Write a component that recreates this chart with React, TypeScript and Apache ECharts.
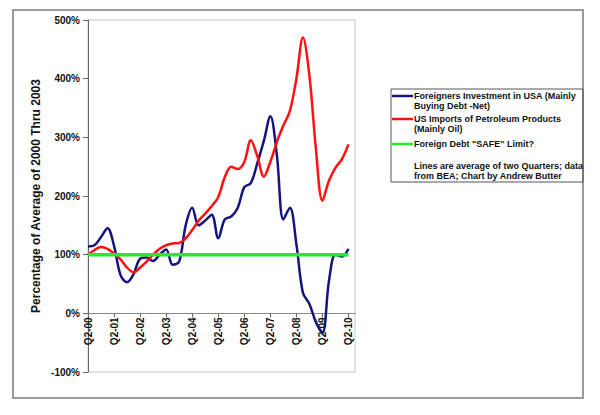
import { useEffect, useRef } from "react";
import * as echarts from "echarts";

const quarters = [
  "Q2-00", "Q3-00", "Q4-00", "Q1-01", "Q2-01", "Q3-01", "Q4-01", "Q1-02",
  "Q2-02", "Q3-02", "Q4-02", "Q1-03", "Q2-03", "Q3-03", "Q4-03", "Q1-04",
  "Q2-04", "Q3-04", "Q4-04", "Q1-05", "Q2-05", "Q3-05", "Q4-05", "Q1-06",
  "Q2-06", "Q3-06", "Q4-06", "Q1-07", "Q2-07", "Q3-07", "Q4-07", "Q1-08",
  "Q2-08", "Q3-08", "Q4-08", "Q1-09", "Q2-09", "Q3-09", "Q4-09", "Q1-10",
  "Q2-10", "Q3-10",
];

// Foreigners Investment in USA (Mainly Buying Debt - Net), % of 2000-2003 average
const foreignInvestment = [
  114, 116, 130, 145, 115, 65, 53, 67, 93, 95,
  89, 100, 109, 83, 88, 150, 180, 150, 158, 168,
  128, 160, 165, 180, 215, 222, 256, 294, 336, 270,
  160, 180, 118, 35, 16, -15, -33, 55, 100, 97,
  110,
];

// US Imports of Petroleum Products (Mainly Oil), % of 2000-2003 average
const petroleumImports = [
  100, 108, 113, 110, 102, 92, 78, 70, 78, 88,
  100, 110, 116, 119, 120, 128, 142, 158, 170, 183,
  198, 232, 250, 246, 258, 295, 268, 233, 258, 292,
  320, 345, 400, 470, 405, 280, 192, 226, 248, 263,
  288,
];

const safeLimit = 100;
const safeLimitRange = ["Q2-00", "Q2-10"];

const yMin = -100;
const yMax = 500;
const yStep = 100;

const seriesNames = [
  "Foreigners Investment in USA (Mainly Buying Debt -Net)",
  "US Imports of Petroleum Products (Mainly Oil)",
  "Foreign Debt \"SAFE\" Limit?",
];
const legendTextLines = [
  ["Foreigners Investment in USA (Mainly", "Buying Debt -Net)"],
  ["US Imports of Petroleum Products", "(Mainly Oil)"],
  ["Foreign Debt \"SAFE\" Limit?"],
];
const noteLines = [
  "Lines are average of two Quarters; data",
  "from BEA; Chart by Andrew Butter",
];
const yAxisTitle = "Percentage of Average of 2000 Thru 2003";

const COLORS = ["#14147e", "#ff1111", "#22ee22"];
const FONT = "'Liberation Sans', Arial, sans-serif";

const GRID = { left: 88, right: 245, top: 20, bottom: 43 };
const CHART_H = 415;

export default function App() {
  const ref = useRef<HTMLDivElement>(null);

  useEffect(() => {
    if (!ref.current) return;
    const chart = echarts.init(ref.current, undefined, { renderer: "svg" });

    const plotH = CHART_H - GRID.top - GRID.bottom;
    // move the category axis up so it sits on the 0% line
    const zeroOffset = -((0 - yMin) / (yMax - yMin)) * plotH;

    const legendTop = [96, 119, 144];
    const legendGraphics: any[] = [];
    legendTextLines.forEach((lines, i) => {
      legendGraphics.push({
        type: "line",
        shape: { x1: 392, y1: legendTop[i], x2: 413, y2: legendTop[i] },
        style: { stroke: COLORS[i], lineWidth: 2.5 },
      });
      lines.forEach((t, j) => {
        legendGraphics.push({
          type: "text",
          style: {
            text: t,
            x: 414,
            y: legendTop[i] + j * 9.8,
            fill: "#111",
            fontSize: 9,
            fontWeight: "bold",
            fontFamily: FONT,
            verticalAlign: "middle",
            align: "left",
          },
        });
      });
    });
    noteLines.forEach((t, j) => {
      legendGraphics.push({
        type: "text",
        style: {
          text: t,
          x: 414,
          y: 166 + j * 9.5,
          fill: "#111",
          fontSize: 9,
          fontWeight: "bold",
          fontFamily: FONT,
          verticalAlign: "middle",
          align: "left",
        },
      });
    });

    chart.setOption({
      animation: false,
      backgroundColor: "#ffffff",
      textStyle: { fontFamily: FONT },
      grid: {
        ...GRID,
        show: true,
        borderColor: "#c4c4c4",
        borderWidth: 1,
        backgroundColor: "transparent",
      },
      xAxis: {
        type: "category",
        data: quarters,
        boundaryGap: false,
        offset: zeroOffset,
        axisLine: { onZero: false, lineStyle: { color: "#8a8a8a", width: 1 } },
        axisTick: { show: true, interval: 3, length: 4, lineStyle: { color: "#666" } },
        axisLabel: {
          interval: 3,
          rotate: 90,
          margin: 4,
          fontSize: 10,
          fontWeight: "bold",
          color: "#111",
          fontFamily: FONT,
        },
        splitLine: { show: false },
      },
      yAxis: {
        type: "value",
        min: yMin,
        max: yMax,
        interval: yStep,
        axisLine: { show: true, onZero: false, lineStyle: { color: "#666", width: 1 } },
        axisTick: { show: true, length: 5, lineStyle: { color: "#666" } },
        splitLine: { show: false },
        axisLabel: {
          formatter: "{value}%",
          margin: 8,
          fontSize: 10,
          fontWeight: "bold",
          color: "#111",
          fontFamily: FONT,
        },
        name: yAxisTitle,
        nameLocation: "middle",
        nameGap: 46,
        nameTextStyle: {
          fontSize: 12,
          fontWeight: "bold",
          color: "#111",
          fontFamily: FONT,
        },
      },
      series: [
        {
          name: seriesNames[0],
          type: "line",
          data: foreignInvestment,
          smooth: 0.35,
          symbol: "none",
          lineStyle: { color: COLORS[0], width: 2.5 },
          z: 2,
        },
        {
          name: seriesNames[1],
          type: "line",
          data: petroleumImports,
          smooth: 0.35,
          symbol: "none",
          lineStyle: { color: COLORS[1], width: 2.5 },
          z: 3,
        },
        {
          name: seriesNames[2],
          type: "line",
          data: safeLimitRange.map((q) => [q, safeLimit]),
          symbol: "none",
          lineStyle: { color: COLORS[2], width: 3.5 },
          z: 4,
        },
      ],
      graphic: [
        {
          type: "rect",
          shape: { x: 13, y: 10, width: 570, height: 388 },
          style: { fill: "none", stroke: "#7a7a7a", lineWidth: 1.5 },
          silent: true,
        },
        {
          type: "rect",
          shape: { x: 391, y: 89, width: 192, height: 93 },
          style: { fill: "none", stroke: "#555", lineWidth: 1 },
          silent: true,
        },
        ...legendGraphics,
      ],
    });

    return () => chart.dispose();
  }, []);

  return (
    <div
      ref={ref}
      style={{ position: "fixed", left: 0, top: 0, width: 600, height: 415 }}
    />
  );
}
